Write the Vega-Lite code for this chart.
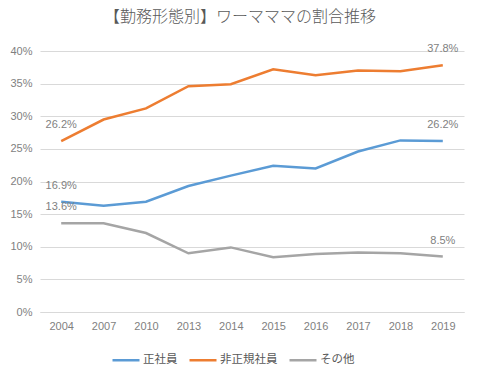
{
  "$schema": "https://vega.github.io/schema/vega-lite/v6.json",
  "width": 424,
  "height": 261,
  "autosize": {"type": "none"},
  "padding": {"left": 40, "top": 51, "right": 17, "bottom": 63},
  "background": "white",
  "title": {
    "text": "【勤務形態別】ワーマママの割合推移",
    "font": "Noto Sans CJK JP",
    "fontSize": 16,
    "fontWeight": 300,
    "color": "#595959",
    "anchor": "middle",
    "dx": -12,
    "offset": 18
  },
  "config": {
    "view": {"stroke": null},
    "axis": {"labelFont": "Liberation Sans", "labelColor": "#7f7f7f", "labelFontSize": 11, "gridColor": "#d9d9d9", "domainColor": "#d9d9d9", "ticks": false, "title": null}
  },
  "data": {
    "values": [
      {"year": "2004", "type": "正社員", "v": 16.9},
      {"year": "2007", "type": "正社員", "v": 16.3},
      {"year": "2010", "type": "正社員", "v": 16.9},
      {"year": "2013", "type": "正社員", "v": 19.3},
      {"year": "2014", "type": "正社員", "v": 20.9},
      {"year": "2015", "type": "正社員", "v": 22.4},
      {"year": "2016", "type": "正社員", "v": 22.0},
      {"year": "2017", "type": "正社員", "v": 24.6},
      {"year": "2018", "type": "正社員", "v": 26.3},
      {"year": "2019", "type": "正社員", "v": 26.2},
      {"year": "2004", "type": "非正規社員", "v": 26.2},
      {"year": "2007", "type": "非正規社員", "v": 29.5},
      {"year": "2010", "type": "非正規社員", "v": 31.2},
      {"year": "2013", "type": "非正規社員", "v": 34.6},
      {"year": "2014", "type": "非正規社員", "v": 34.9},
      {"year": "2015", "type": "非正規社員", "v": 37.2},
      {"year": "2016", "type": "非正規社員", "v": 36.3},
      {"year": "2017", "type": "非正規社員", "v": 37.0},
      {"year": "2018", "type": "非正規社員", "v": 36.9},
      {"year": "2019", "type": "非正規社員", "v": 37.8},
      {"year": "2004", "type": "その他", "v": 13.6},
      {"year": "2007", "type": "その他", "v": 13.6},
      {"year": "2010", "type": "その他", "v": 12.1},
      {"year": "2013", "type": "その他", "v": 9.0},
      {"year": "2014", "type": "その他", "v": 9.9},
      {"year": "2015", "type": "その他", "v": 8.4},
      {"year": "2016", "type": "その他", "v": 8.9},
      {"year": "2017", "type": "その他", "v": 9.1},
      {"year": "2018", "type": "その他", "v": 9.0},
      {"year": "2019", "type": "その他", "v": 8.5}
    ]
  },
  "encoding": {
    "x": {"field": "year", "type": "ordinal", "scale": {"type": "point", "padding": 0.5},
      "axis": {"labelAngle": 0, "grid": false, "domain": true, "labelPadding": 8}},
    "y": {"field": "v", "type": "quantitative", "scale": {"domain": [0, 40]},
      "axis": {"values": [0, 5, 10, 15, 20, 25, 30, 35, 40], "labelExpr": "datum.value + '%'", "domain": false, "labelPadding": 8}}
  },
  "layer": [
    {
      "mark": {"type": "line", "strokeWidth": 2.5},
      "encoding": {
        "color": {"field": "type", "type": "nominal",
          "scale": {"domain": ["正社員", "非正規社員", "その他"], "range": ["#5B9BD5", "#ED7D31", "#A5A5A5"]},
          "legend": {"title": null, "orient": "none", "direction": "horizontal", "legendX": 71, "legendY": 294,
            "symbolType": "stroke", "symbolSize": 729, "symbolStrokeWidth": 2.5, "labelOffset": 2,
            "labelFont": "Noto Sans CJK JP", "labelFontSize": 11.5, "labelColor": "#595959", "columnPadding": 6, "symbolOffset": 0}}
      }
    },
    {
      "transform": [
        {"filter": "datum.year == '2004' || datum.year == '2019'"},
        {"calculate": "format(datum.v, '.1f') + '%'", "as": "label"}
      ],
      "mark": {"type": "text", "dy": -16, "font": "Liberation Sans", "fontSize": 11, "color": "#7f7f7f"},
      "encoding": {"text": {"field": "label", "type": "nominal"}}
    }
  ]
}
